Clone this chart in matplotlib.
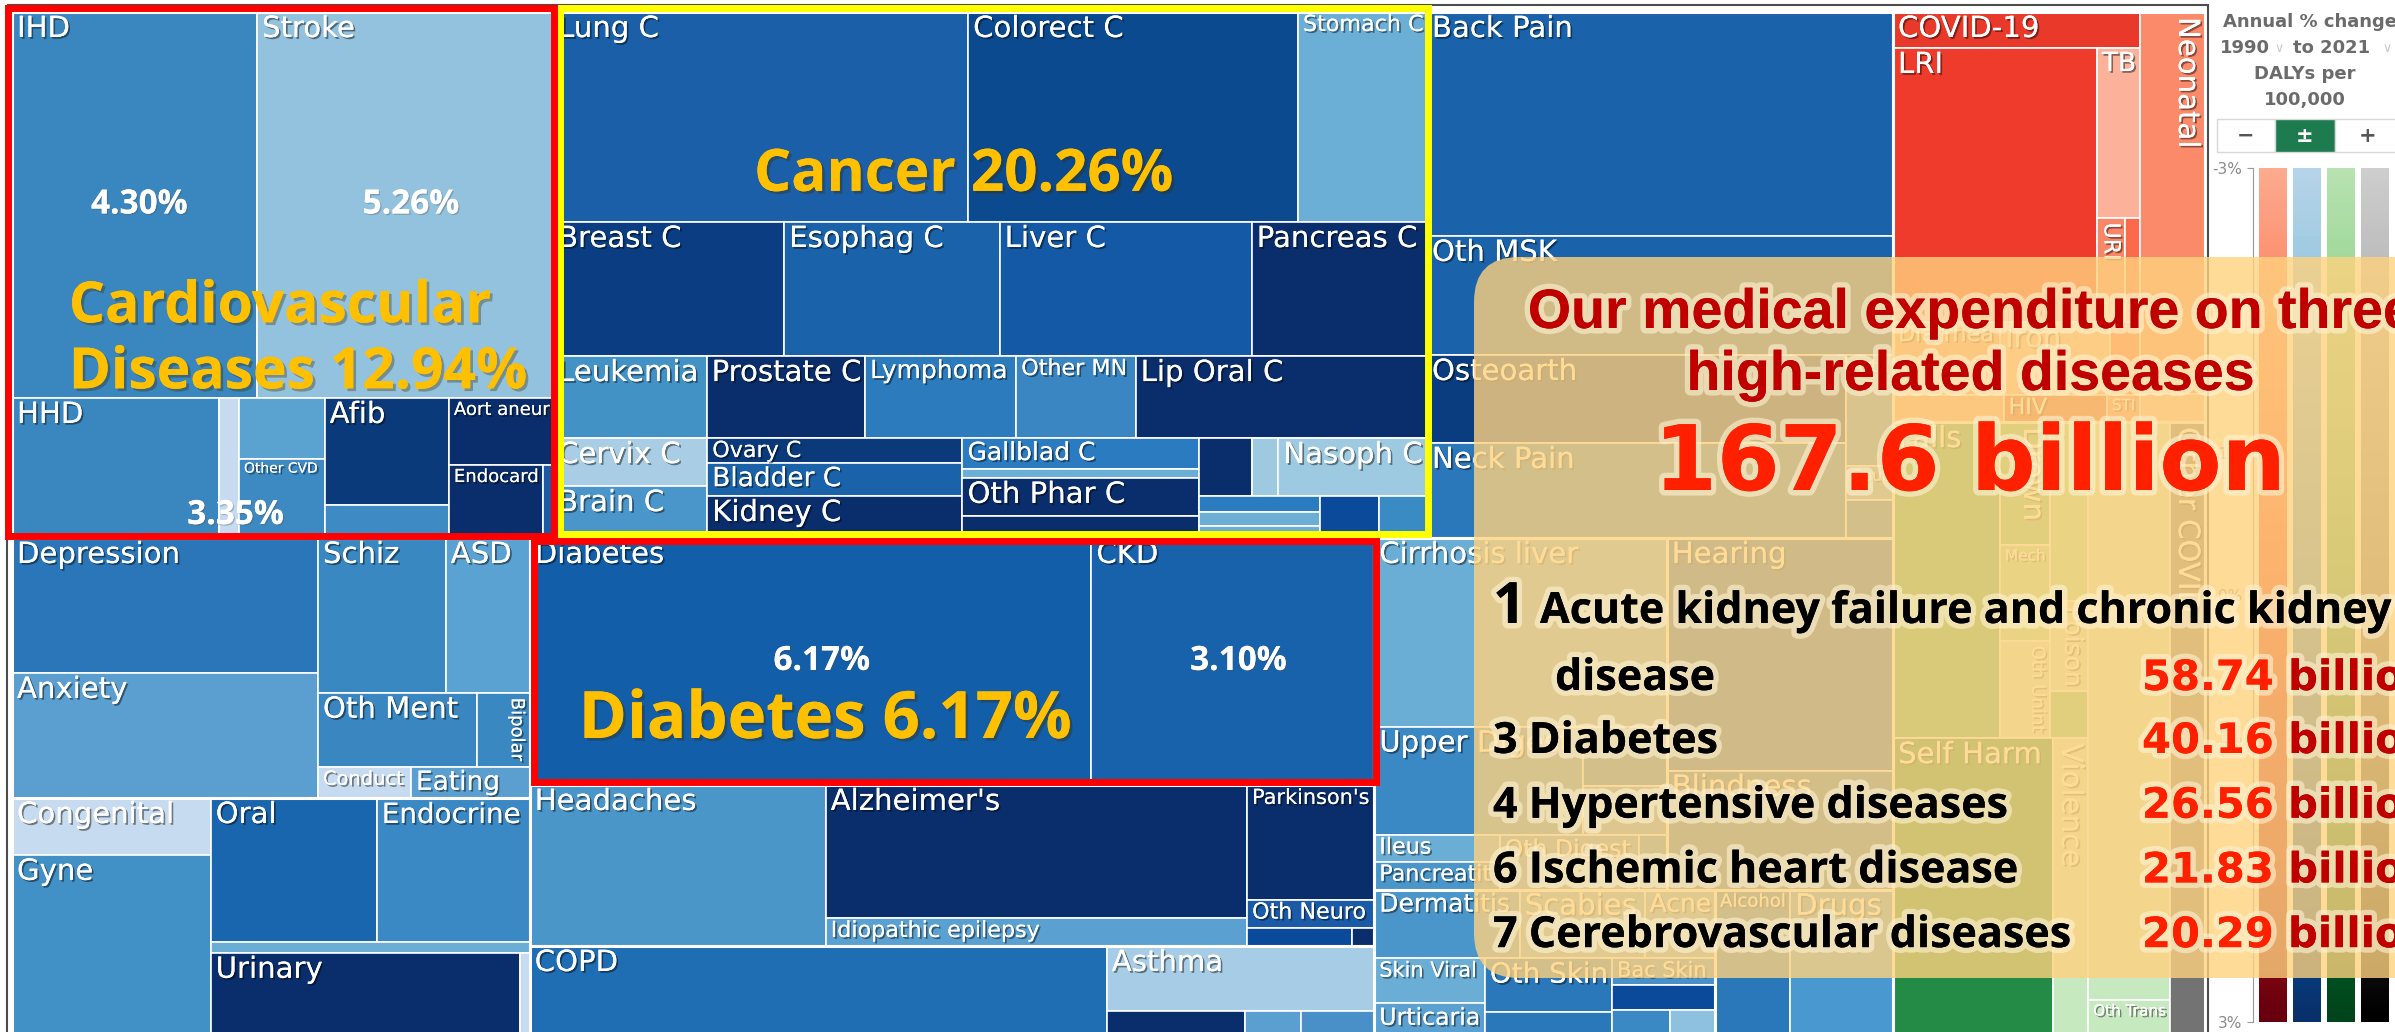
import numpy as np
import matplotlib
matplotlib.use('Agg')
import matplotlib.pyplot as plt
import matplotlib.patheffects as pe
from matplotlib.patches import Rectangle, FancyBboxPatch

W, H = 2395, 1032

# ---- treemap cause groups: label, relative DALY size, colour (annual % change) ----
cvd_names = ['IHD', 'Stroke', 'HHD', '', '', 'Other CVD', 'Afib', '', 'Aort aneur', 'Endocard', '']
cvd_values = [94.6, 114.3, 29.0, 2.8, 5.2, 6.8, 13.3, 4.1, 7.0, 6.9, 0.7]
cvd_colors = ['#3a87c0', '#93c2de', '#3a87c0', '#c6dbef', '#5aa2d0', '#3d89c2',
              '#0b3a7a', '#3d8ac4', '#0a2d6b', '#0a2d6b', '#1c5aa6']
cvd_tree = ('v', [('h', [0, 1]), ('h', [2, 3, ('v', [4, 5]), ('v', [6, 7]), ('v', [8, ('h', [9, 10])])])])

cancer_names = ['Lung C', 'Colorect C', 'Stomach C', 'Breast C', 'Esophag C', 'Liver C', 'Pancreas C',
                'Leukemia', 'Prostate C', 'Lymphoma', 'Other MN', 'Lip Oral C', 'Cervix C', 'Brain C',
                'Ovary C', 'Bladder C', 'Kidney C', 'Gallblad C', '', 'Oth Phar C', '', '', '',
                'Nasoph C', '', '', '', '', '']
cancer_values = [87.2, 69.3, 27.1, 31.0, 28.9, 33.8, 23.5, 12.6, 13.0, 12.4, 9.8, 23.9, 7.4, 8.0,
                 6.4, 8.4, 10.7, 7.3, 2.1, 9.0, 5.2, 3.1, 1.5, 8.6, 2.0, 1.7, 1.4, 2.5, 2.0]
cancer_colors = ['#1a5fa8', '#0b4a8f', '#6baed6', '#0b3d82', '#1a63aa', '#1459a5', '#0a2d6b',
                 '#4292c6', '#0a2d6b', '#2c7bbd', '#3a86c2', '#0a2d6b', '#a9cde5', '#4a96cb',
                 '#0a3a7a', '#1a63aa', '#0a2d6b', '#2a7bc0', '#6baed6', '#0a2d6b', '#0a2d6b',
                 '#0a2d6b', '#9ecae1', '#9ecae1', '#2a7bc0', '#6baed6', '#6baed6', '#0b4a9a', '#3a8ac4']
cancer_tree = ('v', [('h', [0, 1, 2]), ('h', [3, 4, 5, 6]), ('h', [7, 8, 9, 10, 11]),
                     ('h', [('v', [12, 13]), ('v', [14, 15, 16]), ('v', [17, 18, 19, 20]),
                            ('v', [('h', [21, 22, 23]), ('h', [('v', [24, 25, 26]), 27, 28])])])])

msk_names = ['Back Pain', 'Oth MSK', 'Osteoarth', 'Neck Pain', 'Arth', 'Gout', '']
msk_values = [104.4, 55.5, 36.9, 39.8, 5.2, 1.6, 1.8]
msk_colors = ['#1a63aa', '#1a63aa', '#0a3d80', '#2a78ba', '#4a90c8', '#6aaed6', '#2a78ba']
msk_tree = ('v', [0, 1, ('h', [('v', [2, 3]), ('v', [4, 5, 6])])])

mental_names = ['Depression', 'Anxiety', 'Schiz', 'ASD', 'Oth Ment', 'Bipolar', 'Conduct', 'Eating']
mental_values = [41.3, 38.3, 19.8, 13.0, 11.8, 3.9, 2.9, 3.7]
mental_colors = ['#2a76b8', '#5a9fcf', '#3a88c2', '#5aa2d2', '#3a86c0', '#3a88c2', '#c6dbef', '#5a9fcf']
mental_tree = ('h', [('v', [0, 1]), ('v', [('h', [2, 3]), ('h', [4, 5]), ('h', [6, 7])])])

other_names = ['Congenital', 'Gyne', 'Oral', 'Endocrine', '', 'Urinary', '']
other_values = [11.3, 38.4, 23.9, 22.0, 3.5, 29.5, 0.9]
other_colors = ['#c6dbef', '#4190c6', '#1a66ae', '#3a88c4', '#6aaed6', '#0a2d6b', '#c6dbef']
other_tree = ('h', [('v', [0, 1]), ('v', [('h', [2, 3]), 4, ('h', [5, 6])])])

diab_names = ['Diabetes', 'CKD']
diab_values = [138.8, 69.9]
diab_colors = ['#135ea8', '#1862ab']
diab_tree = ('h', [0, 1])

neuro_names = ['Headaches', "Alzheimer's", 'Idiopathic epilepsy', "Parkinson's", 'Oth Neuro', '', '']
neuro_values = [47.7, 56.1, 11.8, 14.6, 3.6, 1.9, 0.4]
neuro_colors = ['#4a96c8', '#0a2d6b', '#5aa0d0', '#0a2d6b', '#1a5aa6', '#0b4a9a', '#0a2d6b']
neuro_tree = ('h', [0, ('v', [1, 2]), ('v', [3, 4, ('h', [5, 6])])])

resp_names = ['COPD', 'Asthma', '', '', '']
resp_values = [58.9, 17.4, 5.1, 2.1, 2.7]
resp_colors = ['#1f6db3', '#a6cde5', '#0a2d6b', '#5a9fd0', '#4a90c8']
resp_tree = ('h', [0, ('v', [1, ('h', [2, 3, 4])])])

digest_names = ['Cirrhosis liver', 'Upper Digest', '', '', 'Ileus', 'Pancreatit', 'Oth Digest', '']
digest_values = [55.2, 22.5, 5.0, 4.1, 3.4, 3.5, 7.7, 1.5]
digest_colors = ['#6aaed6', '#3a88c4', '#2a78ba', '#5aa0d0', '#6aaed6', '#4a96ca', '#5aa0d0', '#3a88c4']
digest_tree = ('v', [0, ('h', [1, ('v', [2, 3])]), ('h', [('v', [4, 5]), 6, 7])])

sense_names = ['Hearing', 'Blindness']
sense_values = [52.7, 26.9]
sense_colors = ['#1a5fa8', '#2a70b0']
sense_tree = ('v', [0, 1])

skin_names = ['Dermatitis', 'Scabies', 'Acne', 'Skin Viral', 'Urticaria', 'Oth Skin', '', 'Bac Skin', '', '', '']
skin_values = [9.9, 8.5, 4.8, 5.0, 5.0, 6.9, 4.6, 2.8, 2.6, 2.2, 1.7]
skin_colors = ['#4a96ca', '#6aaed6', '#6aaed6', '#6aaed6', '#5aa0d0', '#2a78ba', '#2a78ba',
               '#4a90c8', '#0b4a9a', '#3a88c4', '#8ec0e0']
skin_tree = ('v', [('h', [0, 1, 2]), ('h', [('v', [3, 4]), ('v', [5, 6]), ('v', [7, 8, ('h', [9, 10])])])])

subst_names = ['Alcohol', 'Drugs']
subst_values = [11.9, 16.3]
subst_colors = ['#2a78ba', '#4a98d0']
subst_tree = ('h', [0, 1])

infect_names = ['COVID-19', 'LRI', 'TB', 'URI', '', 'Diarrhea', 'Iron', '', '', 'HIV', 'STI', 'Neonatal', '']
infect_values = [8.9, 55.9, 7.3, 2.9, 1.6, 7.8, 8.0, 2.2, 3.0, 2.8, 0.9, 24.9, 1.8]
infect_colors = ['#e8392a', '#ee3b2c', '#fcb29a', '#f8876a', '#fb6a4a', '#f4a582', '#fcbba1',
                 '#fb6a4a', '#f4a582', '#d85a3a', '#fb8a6a', '#fb8a6a', '#fcbba1']
infect_tree = ('h', [('v', [0, ('h', [1, ('v', [2, ('h', [3, 4])])]), ('h', [5, 6, 7]), ('h', [8, 9, 10])]),
                     ('v', [11, 12])])

inj_names = ['Falls', 'Drown', 'Mech', 'Oth Unint', '', 'Poison', '', 'Self Harm', 'Violence', '',
             'Oth Trans', 'Other COVID']
inj_values = [33.8, 6.2, 4.8, 4.9, 6.8, 3.4, 1.8, 49.6, 10.9, 47.4, 3.9, 21.9]
inj_colors = ['#41ab5d', '#74c476', '#a1d99b', '#c7e9c0', '#a1d99b', '#c7e9c0', '#74c476',
              '#238b45', '#c7e9c0', '#c7e9c0', '#c7e9c0', '#737373']
inj_tree = ('h', [('v', [('h', [0, ('v', [1, 2, 3]), ('v', [4, 5, 6])]), ('h', [7, 8])]), ('v', [9, 10]), 11])

# shares printed on the chart
pct_cells = [('cvd', 'IHD'), ('cvd', 'Stroke'), ('cvd', 'HHD'), ('diab', 'Diabetes'), ('diab', 'CKD')]
pct_share = [4.30, 5.26, 3.35, 6.17, 3.10]
headline_groups = ['cvd', 'cancer', 'diab']
headline_names = ['Cardiovascular\nDiseases', 'Cancer', 'Diabetes']
headline_share = [12.94, 20.26, 6.17]

# expenditure box
total_spend = 167.6
spend_rank = [1, 3, 4, 6, 7]
spend_names = ['Acute kidney failure and chronic kidney\ndisease', 'Diabetes', 'Hypertensive diseases',
               'Ischemic heart disease', 'Cerebrovascular diseases']
spend_values = [58.74, 40.16, 26.56, 21.83, 20.29]

# legend panel
change_ticks = [-3, -2, -1, 0, 1, 2, 3]
panel_cmaps = ['Reds', 'Blues', 'Greens', 'Greys']

groups = {
    'cvd': (cvd_names, cvd_values, cvd_colors, cvd_tree),
    'cancer': (cancer_names, cancer_values, cancer_colors, cancer_tree),
    'msk': (msk_names, msk_values, msk_colors, msk_tree),
    'mental': (mental_names, mental_values, mental_colors, mental_tree),
    'other': (other_names, other_values, other_colors, other_tree),
    'diab': (diab_names, diab_values, diab_colors, diab_tree),
    'neuro': (neuro_names, neuro_values, neuro_colors, neuro_tree),
    'resp': (resp_names, resp_values, resp_colors, resp_tree),
    'digest': (digest_names, digest_values, digest_colors, digest_tree),
    'sense': (sense_names, sense_values, sense_colors, sense_tree),
    'skin': (skin_names, skin_values, skin_colors, skin_tree),
    'subst': (subst_names, subst_values, subst_colors, subst_tree),
    'infect': (infect_names, infect_values, infect_colors, infect_tree),
    'inj': (inj_names, inj_values, inj_colors, inj_tree),
}
top_tree = ('h', [('v', [('h', ['cvd', 'cancer', 'msk']),
                         ('h', [('v', ['mental', 'other']), ('v', ['diab', 'neuro', 'resp']),
                                ('v', [('h', ['digest', 'sense']), ('h', ['skin', 'subst'])])])]),
                  ('v', ['infect', 'inj'])])


def node_value(node, leaf):
    if isinstance(node, tuple):
        return sum(node_value(k, leaf) for k in node[1])
    return leaf(node)


def slice_dice(node, rect, leaf, out):
    if not isinstance(node, tuple):
        out.append((node, rect))
        return
    orient, kids = node
    x0, y0, x1, y1 = rect
    vals = [node_value(k, leaf) for k in kids]
    tot = float(sum(vals))
    pos = x0 if orient == 'h' else y0
    span = (x1 - x0) if orient == 'h' else (y1 - y0)
    for k, v in zip(kids, vals):
        d = span * v / tot
        sub = (pos, y0, pos + d, y1) if orient == 'h' else (x0, pos, x1, pos + d)
        slice_dice(k, sub, leaf, out)
        pos += d


fig = plt.figure(figsize=(W / 100, H / 100), dpi=100, facecolor='white')
ax = fig.add_axes([0, 0, 1, 1], zorder=1)
ax.set_xlim(0, W)
ax.set_ylim(H, 0)
ax.axis('off')
renderer = fig.canvas.get_renderer()

shadow = [pe.withSimplePatchShadow(offset=(1.3, -1.3), shadow_rgbFace='black', alpha=0.45), pe.Normal()]


def best_size(t, w, h):
    for fs in range(21, 6, -1):
        t.set_fontsize(fs)
        bb = t.get_window_extent(renderer)
        if bb.width <= w and bb.height <= h:
            return fs
    return None


def put_label(name, rect):
    x0, y0, x1, y1 = rect
    w, h = x1 - x0, min(y1, H) - y0
    th = ax.text(x0 + 5, y0 + 3, name, ha='left', va='top', color='white', family='DejaVu Sans')
    fh = best_size(th, w - 8, h - 5)
    tv = ax.text(x1 - 4, y0 + 5, name, ha='right', va='top', rotation=-90, color='white',
                 family='DejaVu Sans')
    fv = best_size(tv, w - 6, h - 8)
    # vertical text only when the horizontal one would be tiny
    use_v = fv is not None and (fh is None or (fh <= 9 and fv > fh + 2))
    if fh and not use_v:
        tv.remove()
        th.set_fontsize(fh)
        th.set_path_effects(shadow)
    elif use_v:
        th.remove()
        tv.set_fontsize(fv)
        tv.set_path_effects(shadow)
    else:
        th.remove()
        tv.remove()


ROOT = (12, 12, 2205, 1048)
group_rects = []
slice_dice(top_tree, ROOT, lambda g: sum(groups[g][1]), group_rects)
group_rect = dict(group_rects)

cell_rect = {}
for g, grect in group_rects:
    names, vals, cols, tree = groups[g]
    leaves = []
    slice_dice(tree, grect, lambda i, v=vals: v[i], leaves)
    for i, (x0, y0, x1, y1) in leaves:
        ax.add_patch(Rectangle((x0, y0), x1 - x0, y1 - y0, facecolor=cols[i],
                               edgecolor='white', lw=1.2))
        cell_rect[(g, names[i])] = (x0, y0, x1, y1)
        if names[i]:
            put_label(names[i], (x0, y0, x1, y1))
    gx0, gy0, gx1, gy1 = grect
    ax.add_patch(Rectangle((gx0, gy0), gx1 - gx0, gy1 - gy0, fill=False, edgecolor='white', lw=2.2))

ax.add_patch(Rectangle((7, 5), 2201, 1100, fill=False, edgecolor='#4d4d4d', lw=1.5))

# percentage labels inside cells
for (g, n), s in zip(pct_cells, pct_share):
    x0, y0, x1, y1 = cell_rect[(g, n)]
    if n == 'HHD':
        px, py = x1 + 0.08 * (x1 - x0), y0 + 0.84 * (y1 - y0)
    else:
        px, py = x0 + 0.52 * (x1 - x0), y0 + 0.5 * (y1 - y0)
    ax.text(px, py, f'{s:.2f}%', ha='center', va='center', color='white', fontsize=24,
            family='Open Sans', fontweight='bold',
            path_effects=[pe.withSimplePatchShadow(offset=(1, -1), alpha=0.3), pe.Normal()])

# highlight frames around the three groups
frame_style = {'cvd': ('#ff0000', (-4.5, -4.5, -1, 2)),
               'cancer': ('#ffff00', (7, -4, -1, 4)),
               'diab': ('#ff0000', (4, 3, -2, 3))}
for g in ['cancer', 'cvd', 'diab']:
    col, (a, b, c, d) = frame_style[g]
    x0, y0, x1, y1 = group_rect[g]
    ax.add_patch(Rectangle((x0 + a, y0 + b), (x1 - c) - (x0 + a), (y1 - d) - (y0 + b),
                           fill=False, edgecolor=col, lw=5, zorder=5))

# orange headline labels
orange_fx = [pe.withSimplePatchShadow(offset=(2, -2), shadow_rgbFace='#3a2a00', alpha=0.35), pe.Normal()]
head_anchor = {'cvd': (0.105, 0.59, 'left', 41), 'cancer': (0.47, 0.34, 'center', 42),
               'diab': (0.058, 0.81, 'left', 47)}
for g, name, s in zip(headline_groups, headline_names, headline_share):
    x0, y0, x1, y1 = group_rect[g]
    fx, fy, ha, fs = head_anchor[g]
    lines = (name + f' {s:.2f}%').split('\n')
    for k, line in enumerate(lines):
        ax.text(x0 + fx * (x1 - x0), y0 + fy * (y1 - y0) + k * 66, line, ha=ha, va='baseline',
                color='#ffc000', fontsize=fs, family='Open Sans', fontweight='bold',
                path_effects=orange_fx, zorder=6)

# ---- legend panel on the right ----
ptxt = dict(ha='center', va='center', color='#6b6b6b', family='DejaVu Sans', fontweight='bold', fontsize=13)
ax.text(2310, 22, 'Annual % change', **ptxt)
ax.text(2245, 48, '1990', **ptxt)
ax.text(2332, 48, 'to 2021', **ptxt)
for xx in (2279, 2387):
    ax.text(xx, 49, '∨', ha='center', va='center', color='#c8c8c8', fontsize=9, family='DejaVu Sans')
ax.text(2305, 74, 'DALYs per', **ptxt)
ax.text(2305, 100, '100,000', **ptxt)
btn = [('−', 2217, 2275, 'white', '#555555'), ('±', 2275, 2335, '#1e7b4f', 'white'),
       ('+', 2335, 2400, 'white', '#555555')]
for sym, bx0, bx1, fc, tc in btn:
    ax.add_patch(Rectangle((bx0, 119), bx1 - bx0, 33, facecolor=fc, edgecolor='#d9d9d9', lw=1))
    ax.text((bx0 + bx1) / 2, 135.5, sym, ha='center', va='center', color=tc, fontsize=15,
            family='DejaVu Sans', fontweight='bold')

axp = fig.add_axes([2253 / W, 1 - 1022 / H, 142 / W, 854 / H], zorder=2)
for i, cm in enumerate(panel_cmaps):
    axp.imshow(np.linspace(0.3, 1.0, 200)[:, None], cmap=cm, vmin=0, vmax=1,
               extent=(i - 0.41, i + 0.41, 3, -3), aspect='auto', origin='upper')
axp.set_xlim(-0.59, 3.59)
axp.set_ylim(3, -3)
axp.set_yticks(change_ticks)
axp.set_yticklabels([f'{t}%' for t in change_ticks], color='#8a8a8a', fontsize=11)
axp.set_xticks([])
for s in ['top', 'right', 'bottom']:
    axp.spines[s].set_visible(False)
axp.spines['left'].set_color('#999999')
axp.tick_params(axis='y', colors='#999999', labelcolor='#8a8a8a', length=4)
axp.set_facecolor('none')

# ---- expenditure overlay ----
axo = fig.add_axes([0, 0, 1, 1], zorder=3)
axo.set_xlim(0, W)
axo.set_ylim(H, 0)
axo.axis('off')
axo.add_patch(FancyBboxPatch((1474, 257), 1000, 721, boxstyle='round,pad=0,rounding_size=45',
                             facecolor='#ffd27f', edgecolor='none', alpha=0.8))

glow = [pe.withStroke(linewidth=8, foreground='#fff3d2', alpha=0.6), pe.Normal()]
axo.text(1970, 328, 'Our medical expenditure on three', ha='center', va='baseline', color='#c00000',
         fontsize=40, family='Liberation Sans', fontweight='bold', path_effects=glow)
axo.text(1970, 390, 'high-related diseases', ha='center', va='baseline', color='#c00000',
         fontsize=40, family='Liberation Sans', fontweight='bold', path_effects=glow)
axo.text(1970, 490, f'{total_spend} billion', ha='center', va='baseline', color='#ff2000',
         fontsize=65, family='DejaVu Sans', fontweight='bold', path_effects=glow)

ltxt = dict(va='baseline', color='black', family='Open Sans', fontweight='bold', path_effects=glow)
vtxt = dict(va='baseline', family='DejaVu Sans', fontweight='bold', fontsize=30, path_effects=glow)
row_base = 623
for k, (r, name, v) in enumerate(zip(spend_rank, spend_names, spend_values)):
    if '\n' in name:
        first, second = name.split('\n')
        axo.text(1493, row_base, str(r), fontsize=41, **ltxt)
        axo.text(1540, row_base, first, fontsize=31, **ltxt)
        axo.text(1555, row_base + 67, second, fontsize=31, **ltxt)
        vy = row_base + 67
        row_base += 130
    else:
        axo.text(1493, row_base, f'{r} {name}', fontsize=31, **ltxt)
        vy = row_base
        row_base += 64.7
    num = axo.text(2142, vy, f'{v:.2f}', color='#ff2000', ha='left', **vtxt)
    axo.annotate(' billion', xy=(1, 0), xycoords=num, ha='left', va='bottom', color='#c00000',
                 fontsize=30, family='DejaVu Sans', fontweight='bold', path_effects=glow)

fig.savefig('out.png', dpi=100, facecolor='white')
